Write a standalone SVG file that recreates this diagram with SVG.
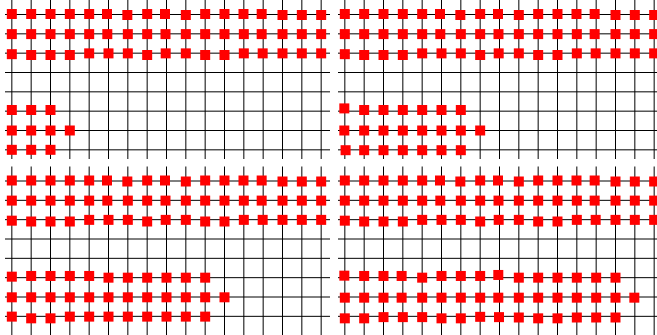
<svg xmlns="http://www.w3.org/2000/svg" xmlns:xlink="http://www.w3.org/1999/xlink" width="657" height="335" viewBox="0 0 657 335">
<style>
.ln{stroke:#000;stroke-width:1;fill:none}
.sq rect{fill:#ff0000}
</style>
<defs>
<path id="h" class="ln" d="M5 14.5H330M5 33.83H330M5 53.17H330M5 72.5H330M5 91.83H330M5 111.17H330M5 130.5H330M5 149.83H330"/>
<path id="vt" class="ln" d="M11.83 0V159M31.17 0V159M50.5 0V159M69.83 0V159M89.17 0V159M108.5 0V159M127.83 0V159M147.17 0V159M166.5 0V159M185.83 0V159M205.17 0V159M224.5 0V159M243.83 0V159M263.17 0V159M282.5 0V159M301.83 0V159M321.17 0V159"/>
<path id="vb" class="ln" d="M11.83 0V170M31.17 0V170M50.5 0V170M69.83 0V170M89.17 0V170M108.5 0V170M127.83 0V170M147.17 0V170M166.5 0V170M185.83 0V170M205.17 0V170M224.5 0V170M243.83 0V170M263.17 0V170M282.5 0V170M301.83 0V170M321.17 0V170"/>
<g id="r123" class="sq">
<rect x="6.83" y="9" width="10" height="10"/><rect x="26.17" y="9" width="10" height="10"/><rect x="45.5" y="9" width="10" height="10"/><rect x="64.83" y="9" width="10" height="10"/><rect x="84.17" y="9" width="10" height="10"/><rect x="102" y="9" width="10" height="10"/><rect x="122.33" y="10" width="10" height="10"/><rect x="142.17" y="9" width="10" height="10"/><rect x="160" y="9" width="10" height="10"/><rect x="180.83" y="10" width="10" height="10"/><rect x="200.17" y="9" width="10" height="10"/><rect x="219.5" y="9" width="10" height="10"/><rect x="238.5" y="9" width="10" height="10"/><rect x="256.67" y="9" width="10" height="10"/><rect x="277.5" y="10" width="10" height="10"/><rect x="296.83" y="10" width="10" height="10"/><rect x="316.17" y="10" width="10" height="10"/>
<rect x="6.83" y="29.1" width="10" height="10"/><rect x="26.17" y="29.1" width="10" height="10"/><rect x="45.5" y="29.1" width="10" height="10"/><rect x="64.83" y="29.1" width="10" height="10"/><rect x="84.17" y="29.1" width="10" height="10"/><rect x="102.3" y="29.1" width="10" height="10"/><rect x="122.83" y="29.1" width="10" height="10"/><rect x="142.17" y="29.1" width="10" height="10"/><rect x="160.5" y="29.1" width="10" height="10"/><rect x="180.83" y="29.1" width="10" height="10"/><rect x="200.17" y="29.1" width="10" height="10"/><rect x="219.5" y="29.1" width="10" height="10"/><rect x="238.83" y="29.1" width="10" height="10"/><rect x="256.67" y="29.1" width="10" height="10"/><rect x="277.5" y="29.1" width="10" height="10"/><rect x="296.83" y="29.1" width="10" height="10"/><rect x="316.17" y="29.1" width="10" height="10"/>
<rect x="6.83" y="49.17" width="10" height="10"/><rect x="26.17" y="50" width="10" height="10"/><rect x="45.5" y="50" width="10" height="10"/><rect x="64.83" y="50" width="10" height="10"/><rect x="84.17" y="48.37" width="10" height="10"/><rect x="103.5" y="48.37" width="10" height="10"/><rect x="122.83" y="48.37" width="10" height="10"/><rect x="142.17" y="50" width="10" height="10"/><rect x="160.7" y="48.37" width="10" height="10"/><rect x="180.83" y="48.37" width="10" height="10"/><rect x="200.17" y="50" width="10" height="10"/><rect x="219.5" y="50" width="10" height="10"/><rect x="238.83" y="48.37" width="10" height="10"/><rect x="257.67" y="48.37" width="10" height="10"/><rect x="277.5" y="48.37" width="10" height="10"/><rect x="296.83" y="48.37" width="10" height="10"/><rect x="316.17" y="48.37" width="10" height="10"/>
</g>
</defs>

<g id="panel-top-left">
<use xlink:href="#h" href="#h"/>
<use xlink:href="#vt" href="#vt"/>
<use xlink:href="#r123" href="#r123"/>
<g class="sq">
<rect x="6.83" y="105" width="10" height="10"/><rect x="26.17" y="105" width="10" height="10"/><rect x="45.5" y="105" width="10" height="10"/>
<rect x="6.83" y="125.5" width="10" height="10"/><rect x="26.17" y="125.5" width="10" height="10"/><rect x="45.5" y="125.5" width="10" height="10"/><rect x="64.83" y="125.5" width="10" height="10"/>
<rect x="6.83" y="144.83" width="10" height="10"/><rect x="26.17" y="144.83" width="10" height="10"/><rect x="45.5" y="144.83" width="10" height="10"/>
</g>
</g>

<g id="panel-top-right" transform="translate(333,0)">
<use xlink:href="#h" href="#h"/>
<use xlink:href="#vt" href="#vt"/>
<use xlink:href="#r123" href="#r123"/>
<g class="sq">
<rect x="6.33" y="103.4" width="10" height="10"/><rect x="26.17" y="105" width="10" height="10"/><rect x="45.5" y="105" width="10" height="10"/><rect x="64.83" y="105" width="10" height="10"/><rect x="84.17" y="105" width="10" height="10"/><rect x="103.5" y="105" width="10" height="10"/><rect x="122.83" y="105" width="10" height="10"/>
<rect x="6.33" y="125.5" width="10" height="10"/><rect x="26.17" y="125.5" width="10" height="10"/><rect x="45.5" y="125.5" width="10" height="10"/><rect x="64.83" y="125.5" width="10" height="10"/><rect x="84.17" y="125.5" width="10" height="10"/><rect x="103.5" y="125.5" width="10" height="10"/><rect x="122.83" y="125.5" width="10" height="10"/><rect x="142.17" y="125.5" width="10" height="10"/>
<rect x="7.6" y="145.2" width="10" height="10"/><rect x="26.17" y="145.2" width="10" height="10"/><rect x="45.5" y="145.2" width="10" height="10"/><rect x="64.83" y="145.2" width="10" height="10"/><rect x="84.17" y="145.2" width="10" height="10"/><rect x="103.5" y="145.2" width="10" height="10"/><rect x="122.83" y="145.2" width="10" height="10"/>
</g>
</g>

<g id="panel-bottom-left" transform="translate(0,166.5)">
<use xlink:href="#h" href="#h"/>
<use xlink:href="#vb" href="#vb"/>
<use xlink:href="#r123" href="#r123"/>
<g class="sq">
<rect x="6.83" y="105.17" width="10" height="10"/><rect x="26.17" y="104.47" width="10" height="10"/><rect x="45.5" y="104.47" width="10" height="10"/><rect x="64.83" y="104.47" width="10" height="10"/><rect x="84.17" y="104.47" width="10" height="10"/><rect x="103.5" y="106.17" width="10" height="10"/><rect x="122.83" y="106.17" width="10" height="10"/><rect x="142.17" y="106.17" width="10" height="10"/><rect x="161.5" y="106.17" width="10" height="10"/><rect x="180.83" y="106.17" width="10" height="10"/><rect x="200.17" y="106.17" width="10" height="10"/>
<rect x="6.83" y="125.8" width="10" height="10"/><rect x="26.17" y="125.8" width="10" height="10"/><rect x="45.5" y="125.8" width="10" height="10"/><rect x="64.83" y="125.8" width="10" height="10"/><rect x="84.17" y="125.8" width="10" height="10"/><rect x="103.5" y="125.8" width="10" height="10"/><rect x="122.83" y="125.8" width="10" height="10"/><rect x="142.17" y="125.8" width="10" height="10"/><rect x="161.5" y="125.8" width="10" height="10"/><rect x="180.83" y="125.8" width="10" height="10"/><rect x="200.17" y="125.8" width="10" height="10"/><rect x="219.5" y="125.8" width="10" height="10"/>
<rect x="6.83" y="145.13" width="10" height="10"/><rect x="26.17" y="146.83" width="10" height="10"/><rect x="45.5" y="146.83" width="10" height="10"/><rect x="64.83" y="145.13" width="10" height="10"/><rect x="84.17" y="145.13" width="10" height="10"/><rect x="103.5" y="145.13" width="10" height="10"/><rect x="122.83" y="145.13" width="10" height="10"/><rect x="142.17" y="145.13" width="10" height="10"/><rect x="161.5" y="145.13" width="10" height="10"/><rect x="180.83" y="145.13" width="10" height="10"/><rect x="200.17" y="145.13" width="10" height="10"/>
</g>
</g>

<g id="panel-bottom-right" transform="translate(333,166.5)">
<use xlink:href="#h" href="#h"/>
<use xlink:href="#vb" href="#vb"/>
<use xlink:href="#r123" href="#r123"/>
<g class="sq">
<rect x="6.33" y="104.17" width="10" height="10"/><rect x="26.17" y="104.47" width="10" height="10"/><rect x="45.5" y="104.47" width="10" height="10"/><rect x="63.63" y="104.47" width="10" height="10"/><rect x="84.17" y="106.17" width="10" height="10"/><rect x="103.5" y="104.47" width="10" height="10"/><rect x="122.83" y="104.47" width="10" height="10"/><rect x="142.17" y="104.47" width="10" height="10"/><rect x="160.3" y="103.47" width="10" height="10"/><rect x="180.83" y="106.17" width="10" height="10"/><rect x="200.17" y="106.17" width="10" height="10"/><rect x="219.5" y="106.17" width="10" height="10"/><rect x="238.83" y="106.17" width="10" height="10"/><rect x="258.17" y="106.17" width="10" height="10"/><rect x="277.5" y="106.17" width="10" height="10"/>
<rect x="6.83" y="126.17" width="10" height="10"/><rect x="26.17" y="126.17" width="10" height="10"/><rect x="45.5" y="126.17" width="10" height="10"/><rect x="63.63" y="126.17" width="10" height="10"/><rect x="84.17" y="126.17" width="10" height="10"/><rect x="103.5" y="126.17" width="10" height="10"/><rect x="122.83" y="126.17" width="10" height="10"/><rect x="142.17" y="126.17" width="10" height="10"/><rect x="160.3" y="126.17" width="10" height="10"/><rect x="180.83" y="126.17" width="10" height="10"/><rect x="200.17" y="126.17" width="10" height="10"/><rect x="219.5" y="126.17" width="10" height="10"/><rect x="238.83" y="126.17" width="10" height="10"/><rect x="258.17" y="126.17" width="10" height="10"/><rect x="277.5" y="126.17" width="10" height="10"/><rect x="296.33" y="126.17" width="10" height="10"/>
<rect x="6.83" y="146.83" width="10" height="10"/><rect x="26.17" y="146.83" width="10" height="10"/><rect x="45.5" y="145.63" width="10" height="10"/><rect x="64.83" y="145.63" width="10" height="10"/><rect x="84.17" y="145.63" width="10" height="10"/><rect x="103.5" y="146.83" width="10" height="10"/><rect x="122.83" y="146.83" width="10" height="10"/><rect x="142.17" y="145.33" width="10" height="10"/><rect x="161" y="145.63" width="10" height="10"/><rect x="180.83" y="146" width="10" height="10"/><rect x="200.17" y="146.83" width="10" height="10"/><rect x="219.5" y="146.83" width="10" height="10"/><rect x="238.83" y="146" width="10" height="10"/><rect x="258.17" y="146" width="10" height="10"/><rect x="277.5" y="146" width="10" height="10"/>
</g>
</g>
</svg>
